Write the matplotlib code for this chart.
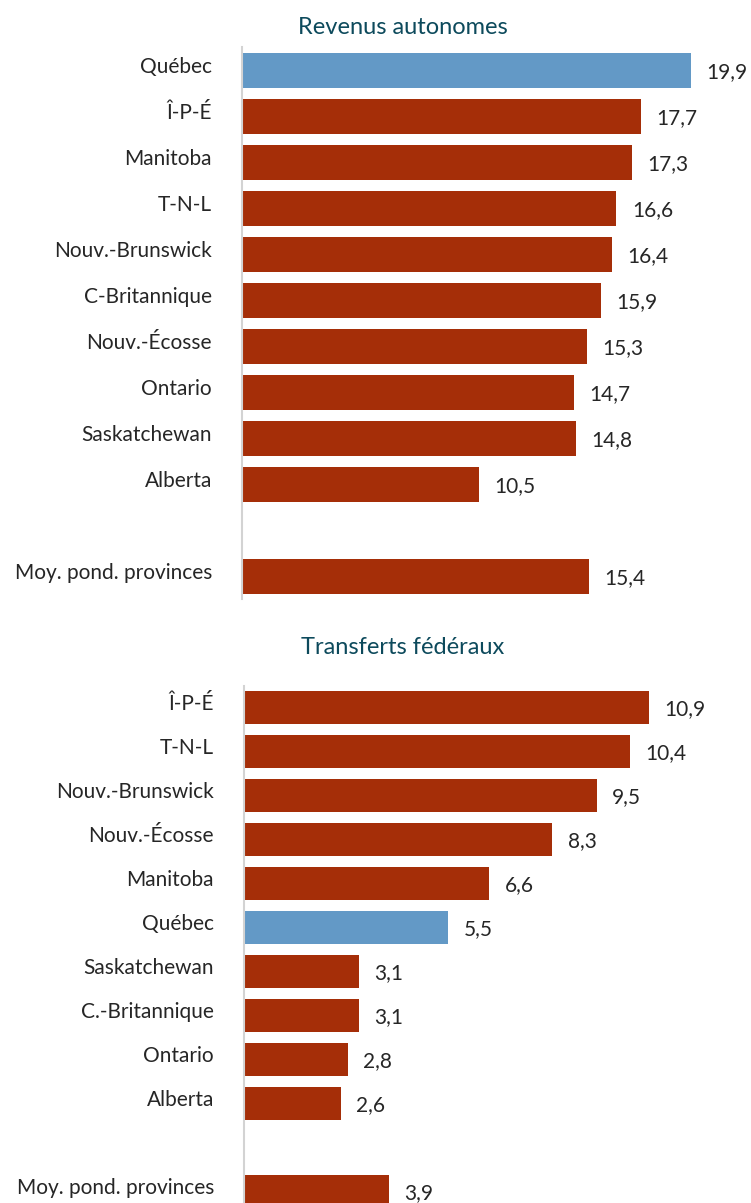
import matplotlib
matplotlib.use("Agg")
import matplotlib.pyplot as plt
from matplotlib.transforms import blended_transform_factory

plt.rcParams['font.family'] = ['Lato', 'DejaVu Sans']

# Revenus autonomes
prov_rev = ["Québec", "Î-P-É", "Manitoba", "T-N-L", "Nouv.-Brunswick",
            "C-Britannique", "Nouv.-Écosse", "Ontario", "Saskatchewan", "Alberta",
            "Moy. pond. provinces"]
val_rev = [19.9, 17.7, 17.3, 16.6, 16.4, 15.9, 15.3, 14.7, 14.8, 10.5, 15.4]

# Transferts fédéraux
prov_tr = ["Î-P-É", "T-N-L", "Nouv.-Brunswick", "Nouv.-Écosse", "Manitoba",
           "Québec", "Saskatchewan", "C.-Britannique", "Ontario", "Alberta",
           "Moy. pond. provinces"]
val_tr = [10.9, 10.4, 9.5, 8.3, 6.6, 5.5, 3.1, 3.1, 2.8, 2.6, 3.9]

RED = "#A52E08"
BLUE = "#6399C6"
TITLE = "#0D4A5C"
AXIS = "#D3D3D3"
TEXT = "#262626"

W, H = 751, 1203
fig = plt.figure(figsize=(W / 100, H / 100), dpi=100)


def panel(left_px, top_px, bottom_px, px_per_unit, labels, values, title, title_y, label_x_px):
    # rows: 10 provinces, one empty row, then the weighted average
    ypos = list(range(len(labels) - 1)) + [len(labels)]
    nrows = len(labels) + 1
    right_px = W
    ax = fig.add_axes([left_px / W, 1 - bottom_px / H,
                       (right_px - left_px) / W, (bottom_px - top_px) / H])
    ax.set_xlim(0, (right_px - left_px) / px_per_unit)
    ax.set_ylim(nrows - 0.5, -0.5)
    colors = [BLUE if l == "Québec" else RED for l in labels]
    ax.barh(ypos, values, height=0.75, color=colors, edgecolor="none")
    for s in ["top", "right", "bottom"]:
        ax.spines[s].set_visible(False)
    ax.spines["left"].set_color(AXIS)
    ax.spines["left"].set_linewidth(1.5)
    ax.set_xticks([])
    ax.set_yticks([])
    tr = blended_transform_factory(fig.transFigure, ax.transData)
    for y, l, v in zip(ypos, labels, values):
        ax.text(label_x_px / W, y - 0.08, l, transform=tr, ha="right", va="center",
                fontsize=15, color=TEXT)
        ax.annotate(f"{v:.1f}".replace(".", ","), xy=(v, y), xytext=(11, -1.5),
                    textcoords="offset points", ha="left", va="center",
                    fontsize=15, color=TEXT)
    fig.text(403 / W, 1 - title_y / H, title, ha="center", va="center",
             fontsize=17, color=TITLE)
    return ax


panel(242, 47.5, 599.5, 22.56, prov_rev, val_rev, "Revenus autonomes", 27, 212)
panel(244, 685.5, 1213.5, 37.16, prov_tr, val_tr, "Transferts fédéraux", 648, 214)

fig.savefig("out.png", dpi=100)
